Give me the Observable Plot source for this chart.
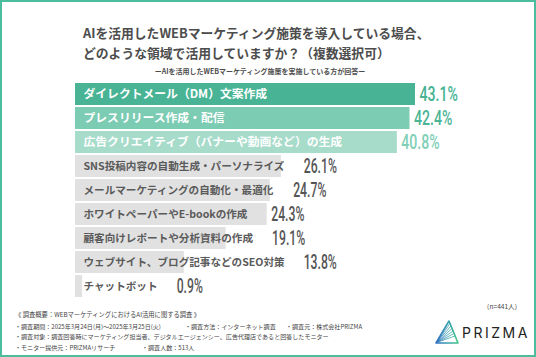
<!DOCTYPE html>
<html><head><meta charset="utf-8">
<script src="https://cdn.jsdelivr.net/npm/d3@7"></script>
<script src="https://cdn.jsdelivr.net/npm/@observablehq/plot@0.6"></script>
<style>
html,body{margin:0;padding:0;background:#fff;}
#wrap{position:relative;width:536px;height:357px;overflow:hidden;background:#fff;font-family:"Noto Sans CJK JP",sans-serif;}
#wrap > svg{position:absolute;left:0;top:0;}
.t{position:absolute;white-space:nowrap;}
#title{left:83px;top:23px;font-size:12.8px;line-height:20px;font-weight:bold;color:#4d4d4d;}
#sub{left:0;width:520px;text-align:center;top:66.5px;font-size:7px;line-height:9px;color:#4d4d4d;font-weight:bold;}
.f{font-size:6.05px;line-height:10px;color:#444;}
#border{position:absolute;left:0;top:0;width:536px;height:357px;box-sizing:border-box;border:2px solid #4cbd9d;pointer-events:none;}
</style></head><body>
<div id="wrap">
  <div class="t" id="title">AIを活用したWEBマーケティング施策を導入している場合、<br>どのような領域で活用していますか？（複数選択可）</div>
  <div class="t" id="sub">ーAIを活用したWEBマーケティング施策を実施している方が回答ー</div>
  <div class="t f" style="left:15px;top:310px;font-size:6.3px">《 調査概要：WEBマーケティングにおけるAI活用に関する調査 》</div>
  <div class="t f" style="left:15px;top:321.6px">・調査期間：2025年3月24日(月)〜2025年3月25日(火)</div>
  <div class="t f" style="left:185px;top:321.6px">・調査方法：インターネット調査</div>
  <div class="t f" style="left:286px;top:321.6px">・調査元：株式会社PRIZMA</div>
  <div class="t f" style="left:15px;top:331.6px">・調査対象：調査回答時にマーケティング担当者、デジタルエージェンシー、広告代理店であると回答したモニター</div>
  <div class="t f" style="left:15px;top:342.6px">・モニター提供元：PRIZMAリサーチ</div>
  <div class="t f" style="left:142px;top:342.6px">・調査人数：513人</div>
  <div class="t f" style="right:15px;top:301px;font-size:6.5px">（n=441人）</div>
  <svg width="536" height="357" id="logo">
    <defs>
      <linearGradient id="lg" gradientUnits="userSpaceOnUse" x1="436" y1="0" x2="458" y2="0">
        <stop offset="0" stop-color="#2f6fc0"/><stop offset="0.55" stop-color="#3a9fb0"/><stop offset="1" stop-color="#43c68a"/>
      </linearGradient>
    </defs>
    <g stroke="url(#lg)" fill="none" stroke-linejoin="round" stroke-linecap="round">
      <polygon points="436,343 449,321 458,343" stroke-width="1.6"/>
      <line x1="436.5" y1="342.5" x2="450" y2="323.5" stroke-width="0.8"/>
      <line x1="436.5" y1="342.5" x2="451" y2="326" stroke-width="0.8"/>
      <line x1="436.5" y1="342.5" x2="452" y2="328.5" stroke-width="0.8"/>
      <line x1="436.5" y1="342.5" x2="453" y2="331" stroke-width="0.8"/>
      <line x1="436.5" y1="342.5" x2="454" y2="333.5" stroke-width="0.8"/>
      <line x1="436.5" y1="342.5" x2="455" y2="336" stroke-width="0.8"/>
    </g>
    <text x="462" y="337.5" font-family="Inter, Lato, sans-serif" font-size="14" letter-spacing="2.5" fill="#222">PRIZMA</text>
  </svg>
  <div id="border"></div>
</div>
<script>
// ---- data ----
const categories = [
  "ダイレクトメール（DM）文案作成",
  "プレスリリース作成・配信",
  "広告クリエイティブ（バナーや動画など）の生成",
  "SNS投稿内容の自動生成・パーソナライズ",
  "メールマーケティングの自動化・最適化",
  "ホワイトペーパーやE-bookの作成",
  "顧客向けレポートや分析資料の作成",
  "ウェブサイト、ブログ記事などのSEO対策",
  "チャットボット"
];
const values = [43.1, 42.4, 40.8, 26.1, 24.7, 24.3, 19.1, 13.8, 0.9];

// ---- style ----
const barColors = ["#48b495", "#7ccbb3", "#a7dbca"];
const greyBar = "#e1e1e1";
const valueColors = ["#45b293", "#4db597", "#7fcfb6"];
const greyValue = "#555";
const highlightCount = 3;
const jp = "Noto Sans CJK JP";

const rows = categories.map((label, i) => ({label, value: values[i], i, top: i < highlightCount}));

const xDomain = [0, d3.max(values)];
const xRange = [75, 415];
const xs = d3.scaleLinear().domain(xDomain).range(xRange);

const ctx = document.createElement("canvas").getContext("2d");
function measure(text, size) { ctx.font = `bold ${size}px "${jp}"`; return ctx.measureText(text).width; }
const labelDx = 8;
const topLabelSize = 11.8, greyLabelSize = 10.6;
rows.forEach(r => {
  const lw = measure(r.label, r.top ? topLabelSize : greyLabelSize);
  const labelEnd = xs(0) + labelDx + lw;
  const px = Math.max(xs(r.value) + 4, labelEnd + 19);
  r.vx = xs.invert(px);
  r.vtext = r.value.toFixed(1) + "%";
});
const topRows = rows.filter(r => r.top);
const greyRows = rows.filter(r => !r.top);

const chart = Plot.plot({
  width: 536,
  height: 357,
  margin: 0,
  style: {background: "transparent"},
  x: {domain: xDomain, range: xRange, axis: null},
  y: {domain: categories, range: [79, 301], paddingInner: 0.09, paddingOuter: 0.045, axis: null},
  color: {type: "identity"},
  marks: [
    Plot.barX(rows, {x: "value", y: "label", fill: d => d.top ? barColors[d.i] : greyBar}),
    Plot.text(topRows, {x: 0, y: "label", text: "label", dx: labelDx, textAnchor: "start",
      fill: "white", fontSize: topLabelSize, fontWeight: "bold", fontFamily: jp}),
    Plot.text(greyRows, {x: 0, y: "label", text: "label", dx: labelDx, textAnchor: "start",
      fill: "#5a5a5a", fontSize: greyLabelSize, fontWeight: "bold", fontFamily: jp}),
    Plot.text(topRows, {x: "vx", y: "label", text: "vtext", textAnchor: "start",
      fill: d => valueColors[d.i], fontSize: 21, fontWeight: 500, fontFamily: "Roboto"}),
    Plot.text(greyRows, {x: "vx", y: "label", text: "vtext", textAnchor: "start",
      fill: greyValue, fontSize: 20, fontWeight: 500, fontFamily: "Roboto"})
  ]
});
const wrap = document.getElementById("wrap");
wrap.insertBefore(chart, wrap.firstChild);

// condense the value labels to mimic the narrow numeric face
d3.select(chart).selectAll("text").filter(function() { return /%$/.test(this.textContent); })
  .each(function() {
    const w = this.getComputedTextLength();
    const big = +this.parentNode.getAttribute("font-size") === 21 || this.getAttribute("font-size") === "21";
    this.setAttribute("textLength", (w * (big ? 0.67 : 0.61)).toFixed(1));
    this.setAttribute("lengthAdjust", "spacingAndGlyphs");
  });
</script>
</body></html>
